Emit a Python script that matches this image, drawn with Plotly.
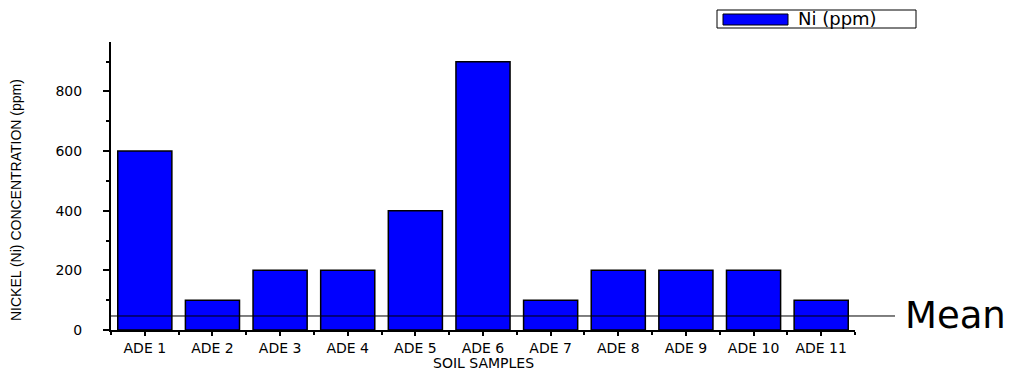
import plotly.graph_objects as go

# Nickel concentration per soil sample
samples = ["ADE 1", "ADE 2", "ADE 3", "ADE 4", "ADE 5", "ADE 6",
           "ADE 7", "ADE 8", "ADE 9", "ADE 10", "ADE 11"]
ni_ppm = [600, 100, 200, 200, 400, 900, 100, 200, 200, 200, 100]
mean_level = 47
series_name = "Ni (ppm)"
y_ticks = [0, 200, 400, 600, 800]

positions = list(range(1, len(samples) + 1))

TXT = "DejaVu Sans, sans-serif"
ARIAL = "Liberation Sans, Arial, sans-serif"

fig = go.Figure()
fig.add_trace(go.Bar(
    x=positions, y=ni_ppm, width=0.8, name=series_name,
    marker=dict(color="#0000FF", line=dict(color="black", width=1.5)),
    showlegend=False,
))

fig.update_layout(
    width=1026, height=372,
    margin=dict(l=111, r=171, t=42, b=42),
    paper_bgcolor="white", plot_bgcolor="white",
    font=dict(family=TXT, color="black"),
    xaxis=dict(
        range=[0.5, 11.5], tickvals=positions, ticktext=samples,
        showline=True, linecolor="black", linewidth=1.5,
        ticks="outside", ticklen=4, tickwidth=1.5, tickcolor="black",
        tickfont=dict(size=14, family=TXT),
        showgrid=False, zeroline=False,
        minor=dict(tick0=0.5, dtick=1, ticks="outside", ticklen=3,
                   tickwidth=1.5, tickcolor="black", showgrid=False),
    ),
    yaxis=dict(
        range=[0, 966], tickvals=y_ticks,
        showline=True, linecolor="black", linewidth=2,
        ticks="outside", ticklen=6, tickwidth=1.5, tickcolor="black",
        tickfont=dict(size=14, family=TXT),
        ticklabelstandoff=18,
        showgrid=False, zeroline=False,
        minor=dict(dtick=100, ticks="outside", ticklen=3,
                   tickwidth=1.5, tickcolor="black", showgrid=False),
    ),
)

# Mean reference line extending past the plot area, drawn over the bars
fig.add_shape(type="line", xref="paper", yref="y", layer="above",
              x0=0, x1=(895 - 111) / 744, y0=mean_level, y1=mean_level,
              line=dict(color="black", width=1))
fig.add_annotation(xref="paper", yref="y", x=(903 - 111) / 744, y=mean_level,
                   text="Mean", showarrow=False, xanchor="left", yanchor="middle",
                   font=dict(size=37, family=TXT))

# Axis titles
fig.add_annotation(xref="paper", yref="paper", x=0.5, y=(330 - 362.5) / 288,
                   text="SOIL SAMPLES", showarrow=False, yanchor="middle",
                   borderpad=0, font=dict(size=14, family=TXT))
fig.add_annotation(xref="paper", yref="paper", x=(16 - 111) / 744,
                   y=(330 - 200) / 288, text="NICKEL (Ni) CONCENTRATION (ppm)",
                   textangle=-90, showarrow=False, xanchor="center", yanchor="middle",
                   font=dict(size=14, family=ARIAL))

# Legend box
lx0, lx1 = (717 - 111) / 744, (916 - 111) / 744
ly0, ly1 = (330 - 28) / 288, (330 - 10) / 288
fig.add_shape(type="rect", xref="paper", yref="paper", x0=lx0, x1=lx1, y0=ly0, y1=ly1,
              line=dict(color="black", width=1), fillcolor="white")
fig.add_shape(type="rect", xref="paper", yref="paper",
              x0=(723 - 111) / 744, x1=(788 - 111) / 744,
              y0=(330 - 25) / 288, y1=(330 - 14) / 288,
              line=dict(color="black", width=1), fillcolor="#0000FF")
fig.add_annotation(xref="paper", yref="paper", x=(796 - 111) / 744, y=(330 - 19) / 288,
                   text=series_name, showarrow=False, xanchor="left", yanchor="middle",
                   font=dict(size=18, family=TXT))

fig.write_html("out.html")
